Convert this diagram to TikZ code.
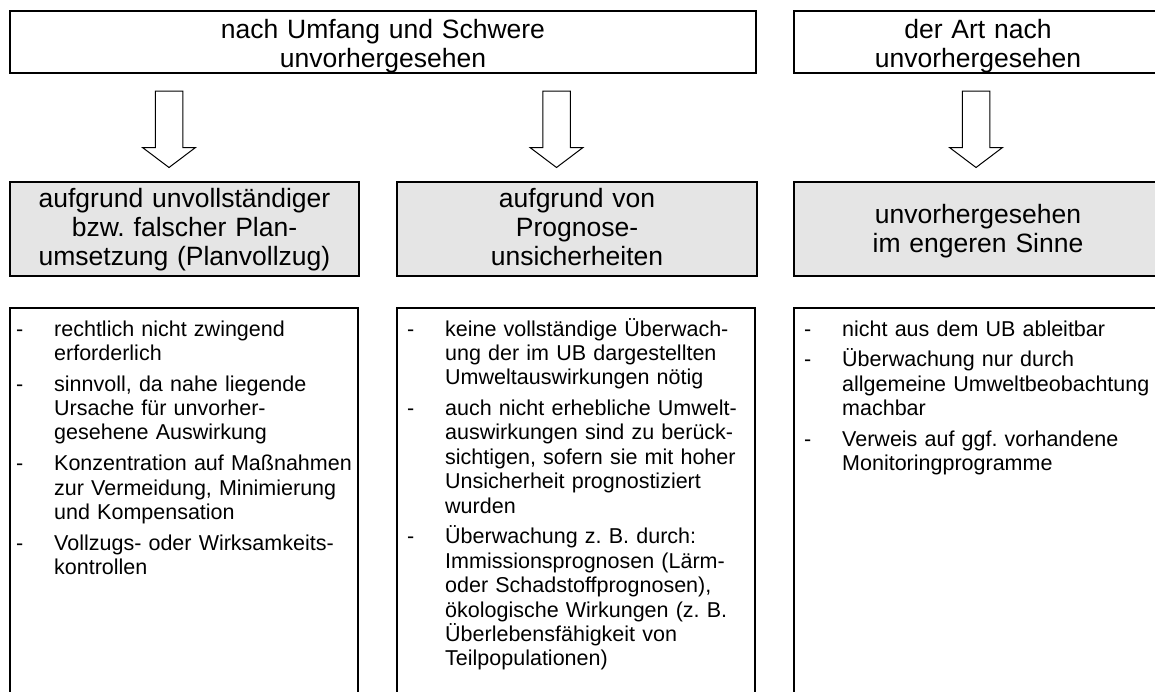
\documentclass[tikz,border=0pt]{standalone}
\usepackage{fontspec}
\setmainfont{Liberation Sans}
\usetikzlibrary{calc}
\frenchspacing
\newcommand\ditem[1]{\hangindent=38pt\hangafter=1\noindent\makebox[38pt][l]{-}#1\par}
\newcommand\itemgap{\vspace{6.3pt}}
\tikzset{
  frame/.style={draw=black, line width=1.5pt, inner sep=0pt, outer sep=0pt, anchor=north west},
  graybox/.style={frame, fill=black!10},
  headtext/.style={inner sep=0pt, anchor=base, text width=700pt, align=center, font=\fontsize{26.5}{29}\selectfont},
  bodytext/.style={inner sep=0pt, anchor=base west, text width=420pt, align=left, font=\fontsize{21.5}{24.4}\selectfont},
  blockarrow/.style={draw=black, line width=1pt, fill=white, line join=miter},
  downarrow/.pic={\path[blockarrow] (-13.75,0) -- (13.75,0) -- (13.75,56.5) -- (26.5,56.5) -- (0,76.5) -- (-26.5,56.5) -- (-13.75,56.5) -- cycle;}
}
\begin{document}
\begin{tikzpicture}[x=1pt,y=-1pt]
\useasboundingbox (0,0) rectangle (1155,691);
\clip (0,0) rectangle (1155,691);
% top row
\node[frame, minimum width=746pt, minimum height=62pt] (top1) at (10,11) {};
\node[frame, minimum width=368pt, minimum height=62pt] (top2) at (794,11) {};
\node[headtext] (top1t) at (383,38) {nach Umfang und Schwere\\unvorhergesehen};
\node[headtext] (top2t) at (978,38) {der Art nach\\unvorhergesehen};
% arrows
\coordinate (a1) at (169,91);
\coordinate (a2) at (556.5,91);
\coordinate (a3) at (976,91);
\pic at (a1) {downarrow};
\pic at (a2) {downarrow};
\pic at (a3) {downarrow};
% gray row
\node[graybox, minimum width=349pt, minimum height=94pt] (g1) at (10,182) {};
\node[graybox, minimum width=360pt, minimum height=94pt] (g2) at (397,182) {};
\node[graybox, minimum width=368pt, minimum height=94pt] (g3) at (794,182) {};
\node[headtext] (g1t) at (184.5,207) {aufgrund unvollständiger\\bzw. falscher Plan-\\umsetzung (Planvollzug)};
\node[headtext] (g2t) at (577,207) {aufgrund von\\Prognose-\\unsicherheiten};
\node[headtext] (g3t) at (978,223.5) {unvorhergesehen\\im engeren Sinne};
% bottom row
\node[frame, minimum width=348pt, minimum height=430pt] (b1) at (10,308) {};
\node[frame, minimum width=358pt, minimum height=430pt] (b2) at (397,308) {};
\node[frame, minimum width=368pt, minimum height=430pt] (b3) at (794,308) {};
\node[bodytext] (b1t) at ($(b1.north west)+(6,28)$) {%
\ditem{rechtlich nicht zwingend\newline erforderlich}\itemgap
\ditem{sinnvoll, da nahe liegende\newline Ursache für unvorher-\newline gesehene Auswirkung}\itemgap
\ditem{Konzentration auf Maßnahmen\newline zur Vermeidung, Minimierung\newline und Kompensation}\itemgap
\ditem{Vollzugs- oder Wirksamkeits-\newline kontrollen}};
\node[bodytext] (b2t) at ($(b2.north west)+(10,28)$) {%
\ditem{keine vollständige Überwach-\newline ung der im UB dargestellten\newline Umweltauswirkungen nötig}\itemgap
\ditem{auch nicht erhebliche Umwelt-\newline auswirkungen sind zu berück-\newline sichtigen, sofern sie mit hoher\newline Unsicherheit prognostiziert\newline wurden}\itemgap
\ditem{Überwachung z.~B. durch:\newline Immissionsprognosen (Lärm-\newline oder Schadstoffprognosen),\newline ökologische Wirkungen (z.~B.\newline Überlebensfähigkeit von\newline Teilpopulationen)}};
\node[bodytext] (b3t) at ($(b3.north west)+(10,28)$) {%
\ditem{nicht aus dem UB ableitbar}\itemgap
\ditem{Überwachung nur durch\newline allgemeine Umweltbeobachtung\newline machbar}\itemgap
\ditem{Verweis auf ggf. vorhandene\newline Monitoringprogramme}};
\end{tikzpicture}
\end{document}
